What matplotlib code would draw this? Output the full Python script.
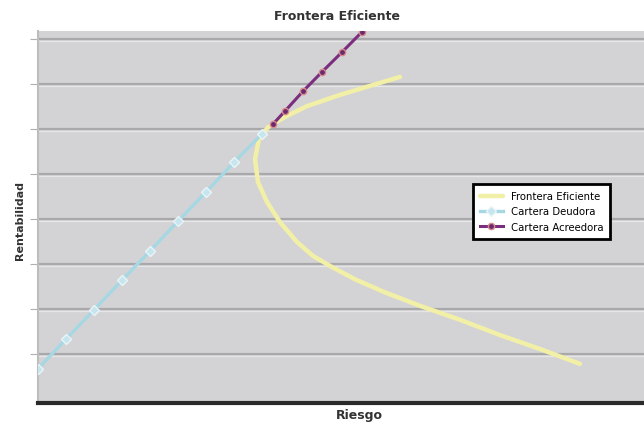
import matplotlib
matplotlib.use("Agg")
import matplotlib.pyplot as plt

# Data (risk, return) in arbitrary units
frontier_risk = [3.62, 3.35, 3.02, 2.69, 2.47, 2.30, 2.21, 2.17, 2.20, 2.29, 2.42, 2.59,
                 2.75, 2.95, 3.18, 3.47, 3.82, 4.22, 4.62, 5.02, 5.42]
frontier_ret = [7.16, 6.98, 6.76, 6.51, 6.27, 6.04, 5.78, 5.33, 4.82, 4.38, 3.93, 3.49,
                3.18, 2.92, 2.65, 2.37, 2.07, 1.76, 1.42, 1.11, 0.78]

lend_risk = [0.00, 0.28, 0.56, 0.84, 1.12, 1.40, 1.68, 1.96, 2.24]
lend_ret = [0.67, 1.33, 1.98, 2.64, 3.29, 3.95, 4.60, 5.26, 5.89]

borrow_risk = [2.35, 2.47, 2.65, 2.84, 3.04, 3.24]
borrow_ret = [6.11, 6.40, 6.84, 7.27, 7.71, 8.16]

ytick_vals = [1, 2, 3, 4, 5, 6, 7, 8]
labels = ["Frontera Eficiente", "Cartera Deudora", "Cartera Acreedora"]

fig = plt.figure(figsize=(6.44, 4.27), dpi=100)
ax = fig.add_axes([38/644, 23/427, 1 - 38/644, (404-32)/427])
ax.set_facecolor("#d3d3d5")
ax.set_xlim(0, 6.06)
ax.set_ylim(-0.09, 8.18)

for yv in ytick_vals:
    ax.axhline(yv, color="#a9a9ab", lw=1.6, zorder=1)
    ax.axhline(yv - 0.05, color="#e6e6e8", lw=0.9, zorder=1)

ax.plot(frontier_risk, frontier_ret, color="#f2f0a6", lw=3.2, zorder=3,
        label=labels[0], solid_capstyle="round", solid_joinstyle="round")
ax.plot(lend_risk, lend_ret, color="#a6d8e4", lw=2.4, marker="D", ms=5,
        mfc="#c6e6ee", mec="#e8f4f8", zorder=4, label=labels[1])
ax.plot(borrow_risk, borrow_ret, color="#7b2d7e", lw=2.2, marker="o", ms=4.5,
        mfc="#6a2a70", mec="#d88a8a", zorder=5, label=labels[2])

ax.set_xticks([])
ax.set_yticks(ytick_vals)
ax.set_yticklabels([])
ax.tick_params(axis="y", length=6, color="#b0b0b0", width=0.8)
for s in ["top", "right"]:
    ax.spines[s].set_visible(False)
ax.spines["left"].set_color("#bdbdbd")
ax.spines["left"].set_linewidth(1.5)
ax.spines["bottom"].set_color("#2a2a2a")
ax.spines["bottom"].set_linewidth(3)

leg = ax.legend(loc="upper left", bbox_to_anchor=(0.718, 0.588), fontsize=7.3,
                frameon=True, fancybox=False, borderpad=0.7, handlelength=2.2,
                labelspacing=0.5, borderaxespad=0)
leg.get_frame().set_edgecolor("black")
leg.get_frame().set_linewidth(2)
leg.get_frame().set_facecolor("white")
leg.get_frame().set_alpha(1)

fig.text(337/644, 1 - 17/427, "Frontera Eficiente", ha="center", va="center",
         fontsize=9, fontweight="bold", color="#333333")
fig.text(359/644, 1 - 416/427, "Riesgo", ha="center", va="center",
         fontsize=9, fontweight="bold", color="#333333")
fig.text(20/644, 1 - 220/427, "Rentabilidad", ha="center", va="center",
         rotation=90, fontsize=8, fontweight="bold", color="#333333")

fig.savefig("out.png", dpi=100)
